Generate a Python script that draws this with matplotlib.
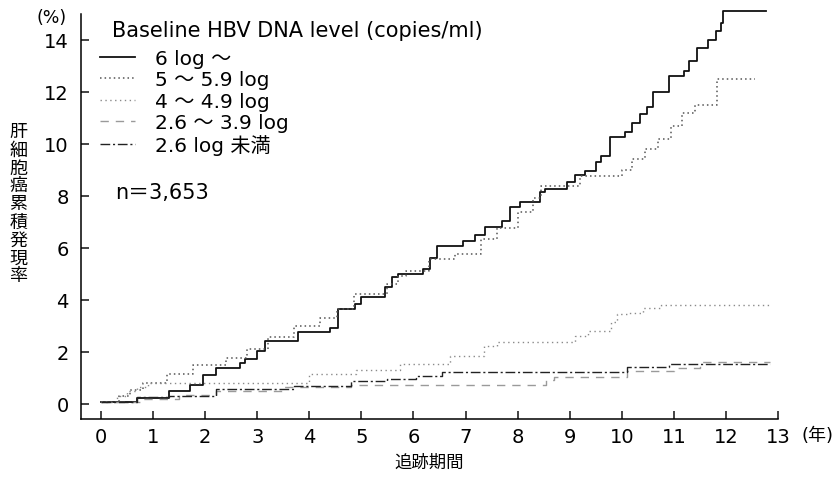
import matplotlib.pyplot as plt
from matplotlib.lines import Line2D

plt.rcParams['font.family'] = ['DejaVu Sans', 'Noto Sans CJK JP']

# cumulative incidence (%), step points (year, %)
years_6 = [0, 0.7, 1.3, 1.7, 1.95, 2.2, 2.67, 2.77, 3.0, 3.15, 3.78, 4.4, 4.55, 4.88, 5.0,
           5.45, 5.59, 5.7, 6.18, 6.32, 6.45, 6.95, 7.18, 7.37, 7.7, 7.85, 8.05, 8.43, 8.52,
           8.95, 9.1, 9.3, 9.5, 9.6, 9.77, 10.06, 10.2, 10.35, 10.48, 10.6, 10.9, 11.2, 11.3,
           11.45, 11.65, 11.8, 11.9, 11.95, 12.77]
rate_6 = [0.08, 0.23, 0.5, 0.73, 1.1, 1.38, 1.57, 1.73, 2.03, 2.42, 2.77, 2.92, 3.65, 3.85, 4.1,
          4.5, 4.88, 5.0, 5.19, 5.6, 6.08, 6.27, 6.5, 6.8, 7.04, 7.58, 7.77, 8.15, 8.27,
          8.54, 8.8, 8.96, 9.3, 9.55, 10.27, 10.45, 10.8, 11.15, 11.4, 12.0, 12.6, 12.8, 13.2,
          13.7, 14.0, 14.35, 14.65, 15.1, 15.1]

years_5 = [0, 0.35, 0.55, 0.8, 1.27, 1.77, 2.4, 2.8, 3.2, 3.7, 4.2, 4.53, 4.85, 5.5, 5.7,
           5.85, 6.3, 6.8, 7.3, 7.6, 8.0, 8.3, 8.45, 9.2, 10.0, 10.2, 10.45, 10.7, 10.95,
           11.15, 11.4, 11.83, 12.55]
rate_5 = [0.08, 0.3, 0.55, 0.8, 1.15, 1.5, 1.77, 2.1, 2.57, 3.0, 3.3, 3.65, 4.23, 4.6, 4.9,
          5.1, 5.58, 5.77, 6.35, 6.77, 7.38, 7.9, 8.38, 8.77, 9.0, 9.4, 9.8, 10.2, 10.7,
          11.2, 11.5, 12.5, 12.5]

years_4 = [0, 0.3, 0.5, 0.7, 0.9, 4.0, 4.9, 5.75, 6.7, 7.35, 7.6, 9.1, 9.35, 9.8, 9.9,
           10.1, 10.4, 10.75, 12.85]
rate_4 = [0.08, 0.3, 0.5, 0.65, 0.8, 1.15, 1.3, 1.53, 1.85, 2.23, 2.38, 2.6, 2.8, 3.15, 3.45,
          3.5, 3.7, 3.8, 3.8]

years_3 = [0, 0.8, 1.5, 2.2, 3.5, 4.8, 8.55, 8.7, 10.1, 11.0, 11.5, 12.85]
rate_3 = [0.08, 0.2, 0.35, 0.5, 0.65, 0.73, 0.9, 1.04, 1.27, 1.38, 1.62, 1.62]

years_2 = [0, 0.7, 1.3, 2.2, 3.7, 4.8, 5.5, 6.05, 6.55, 10.1, 10.9, 12.85]
rate_2 = [0.08, 0.27, 0.3, 0.57, 0.7, 0.88, 0.96, 1.08, 1.23, 1.42, 1.53, 1.53]

labels = ['6 log 〜', '5 〜 5.9 log', '4 〜 4.9 log', '2.6 〜 3.9 log', '2.6 log 未満']
x_ticks = list(range(14))
y_ticks = [0, 2, 4, 6, 8, 10, 12, 14]

styles = [
    dict(color='#111111', lw=1.3, ls='-'),
    dict(color='#555555', lw=1.1, ls=(0, (1, 2))),
    dict(color='#8a8a8a', lw=1.0, ls=(0, (1, 2.5))),
    dict(color='#9a9a9a', lw=1.0, ls=(0, (6, 5))),
    dict(color='#222222', lw=1.0, ls=(0, (7, 2, 1.5, 2))),
]
series = [(years_6, rate_6), (years_5, rate_5), (years_4, rate_4),
          (years_3, rate_3), (years_2, rate_2)]

fig = plt.figure(figsize=(8.38, 4.81), dpi=100)
ax = fig.add_axes([0.0967, 0.127, 0.8317, 0.842])

for (xs, ys), st in zip(series, styles):
    ax.step(xs, ys, where='post', clip_on=False, **st)

ax.set_xlim(-0.384, 13)
ax.set_ylim(-0.58, 15.0)
ax.spines[['right', 'top']].set_visible(False)
ax.spines[['left', 'bottom']].set_linewidth(1.1)
ax.set_xticks(x_ticks)
ax.set_xticklabels([str(t) for t in x_ticks], fontsize=14)
ax.set_yticks(y_ticks)
ax.set_yticklabels([str(t) for t in y_ticks], fontsize=14)
ax.tick_params(axis='both', direction='in', length=6, width=1.1, color='#111111')
ax.tick_params(axis='x', pad=6)
ax.tick_params(axis='y', pad=9)
ax.set_xlabel('追跡期間', fontsize=12.5, labelpad=5)

fig.text(0.957, 0.093, '(年)', fontsize=13, ha='left', va='center')
fig.text(0.062, 0.962, '(%)', fontsize=12.5, ha='center', va='center')
fig.text(0.022, 0.575, '\n'.join('肝細胞癌累積発現率'), fontsize=13, ha='center',
         va='center', linespacing=1.0)

handles = [Line2D([], [], **st) for st in styles]
ax.legend(handles, labels, loc='upper left', bbox_to_anchor=(0.027, 0.913),
          frameon=False, fontsize=14.5, handlelength=1.74, handletextpad=1.0,
          labelspacing=0.11, borderaxespad=0, borderpad=0)
ax.text(0.0445, 0.961, 'Baseline HBV DNA level (copies/ml)', transform=ax.transAxes,
        fontsize=15, ha='left', va='center')
ax.text(0.049, 0.560, 'n＝3,653', transform=ax.transAxes, fontsize=15,
        ha='left', va='center')

fig.savefig('out.png', dpi=100)
